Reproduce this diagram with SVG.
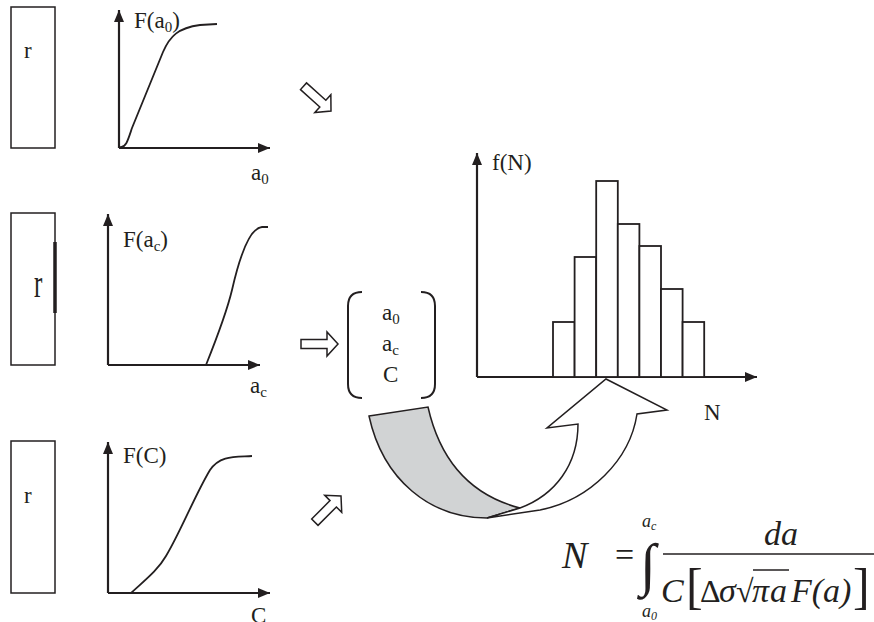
<svg xmlns="http://www.w3.org/2000/svg" width="874" height="622" viewBox="0 0 874 622">
<style>
text{font-family:"Liberation Serif","Times New Roman",serif;fill:#231f20}
.lbl{font-size:23px}
.sub{font-size:15px}
.box{fill:none;stroke:#231f20;stroke-width:1.5}
.axis{fill:none;stroke:#231f20;stroke-width:2.2}
.curve{fill:none;stroke:#231f20;stroke-width:1.8}
.hollow{fill:#fff;stroke:#231f20;stroke-width:1.5}
.bar{fill:#fff;stroke:#231f20;stroke-width:1.8}
.brk{fill:none;stroke:#231f20;stroke-width:2}
.it{font-style:italic}
</style>
<defs>
<marker id="ah" viewBox="0 0 12 10" refX="12" refY="5" markerWidth="12" markerHeight="10" markerUnits="userSpaceOnUse" orient="auto"><path d="M0,0 L12,5 L0,10 Z" fill="#231f20"/></marker>
<path id="hol" d="M-37,-4.5 L-11,-4.5 L-11,-12 L0,0 L-11,12 L-11,4.5 L-37,4.5 Z"/>
</defs>

<g id="panel1">
<rect class="box" x="11" y="7" width="44" height="141"/>
<text class="lbl" x="24" y="58">r</text>
<path class="axis" d="M119,148 L119,10" marker-end="url(#ah)"/>
<path class="axis" d="M119,148 L270,148" marker-end="url(#ah)"/>
<path class="curve" d="M120,147 C126,148 128,140 132,128 L163,52 C170,36 178,28 200,25 L217,24"/>
<text class="lbl" x="134" y="28">F(a<tspan class="sub" dy="4">0</tspan><tspan dy="-4">)</tspan></text>
<text class="lbl" x="251" y="180">a<tspan class="sub" dy="4">0</tspan></text>
</g>

<g id="panel2">
<rect class="box" x="11" y="213" width="44" height="152"/>
<line x1="55" y1="242" x2="55" y2="313" stroke="#231f20" stroke-width="3.5"/>
<text transform="translate(34,297) scale(1,1.6)" font-size="25">r</text>
<path class="axis" d="M108,365 L108,214" marker-end="url(#ah)"/>
<path class="axis" d="M108,365 L260,365" marker-end="url(#ah)"/>
<path class="curve" d="M206,365 C216,340 226,315 232,290 C240,255 250,228 262,227 L268,227"/>
<text class="lbl" x="123" y="247">F(a<tspan class="sub" dy="4">c</tspan><tspan dy="-4">)</tspan></text>
<text class="lbl" x="250" y="393">a<tspan class="sub" dy="4">c</tspan></text>
</g>

<g id="panel3">
<rect class="box" x="11" y="441" width="44" height="152"/>
<text class="lbl" x="24" y="503">r</text>
<path class="axis" d="M108,593 L108,442" marker-end="url(#ah)"/>
<path class="axis" d="M108,593 L270,593" marker-end="url(#ah)"/>
<path class="curve" d="M131,593 C145,580 158,570 166,556 C180,533 195,495 210,470 C220,455 235,457 252,456"/>
<text class="lbl" x="123" y="463">F(C)</text>
<text class="lbl" x="251" y="623">C</text>
</g>

<g id="arrows">
<use href="#hol" class="hollow" transform="translate(331,111) rotate(42)"/>
<use href="#hol" class="hollow" transform="translate(338,344)"/>
<use href="#hol" class="hollow" transform="translate(341,496) rotate(-45)"/>
</g>

<g id="vector">
<path class="brk" d="M362,292 Q348,292 348,306 L348,384 Q348,398 362,398"/>
<path class="brk" d="M421,292 Q435,292 435,306 L435,384 Q435,398 421,398"/>
<text class="lbl" x="382" y="320">a<tspan class="sub" dy="4">0</tspan></text>
<text class="lbl" x="382" y="351">a<tspan class="sub" dy="4">c</tspan></text>
<text class="lbl" x="383" y="382">C</text>
</g>

<g id="histogram">
<path class="axis" d="M477,377 L477,153" marker-end="url(#ah)"/>
<path class="axis" d="M477,377 L757,377" marker-end="url(#ah)"/>
<rect class="bar" x="553" y="322" width="21.6" height="55"/>
<rect class="bar" x="574.6" y="257" width="21.6" height="120"/>
<rect class="bar" x="596.2" y="181" width="21.6" height="196"/>
<rect class="bar" x="617.8" y="224" width="21.6" height="153"/>
<rect class="bar" x="639.4" y="246" width="21.6" height="131"/>
<rect class="bar" x="661" y="289" width="21.6" height="88"/>
<rect class="bar" x="682.6" y="322" width="21.6" height="55"/>
<text class="lbl" x="492" y="170">f(N)</text>
<text class="lbl" x="704" y="420">N</text>
</g>

<g id="curved-arrow">
<path d="M369,416 L428,407 C440,460 470,495 520,508 L487,518 C430,518 383,480 369,416 Z" fill="#d1d3d4" stroke="#231f20" stroke-width="1.5"/>
<path d="M487,518 L540,510 C590,500 630,460 637,414 L667,410 L606,379 L547,428 L578,424 C578,465 555,495 520,508 Z" fill="#fff" stroke="#231f20" stroke-width="1.5" stroke-linejoin="miter"/>
</g>

<g id="formula">
<text class="it" x="562" y="568" font-size="38">N</text>
<text x="615" y="566" font-size="34">=</text>
<text x="640" y="584" font-size="58" font-weight="bold">∫</text>
<text class="it" x="642" y="527" font-size="18">a<tspan font-size="12" dy="3">c</tspan></text>
<text class="it" x="642" y="617" font-size="18">a<tspan font-size="12" dy="3">0</tspan></text>
<line x1="663" y1="554" x2="874" y2="554" stroke="#231f20" stroke-width="1.3"/>
<text class="it" x="764" y="545" font-size="34">da</text>
<text class="it" x="661" y="602" font-size="34">C</text>
<text x="686" y="603" font-size="50">[</text>
<text x="700" y="602" font-size="32">Δ</text>
<text class="it" x="719" y="602" font-size="34">σ</text>
<text x="736" y="602" font-size="32">√</text>
<line x1="753" y1="570" x2="789" y2="570" stroke="#231f20" stroke-width="1.5"/>
<text class="it" x="752" y="602" font-size="34">π</text>
<text class="it" x="770" y="602" font-size="34">a</text>
<text class="it" x="791" y="602" font-size="34">F(a)</text>
<text x="853" y="603" font-size="50">]</text>
</g>
</svg>
